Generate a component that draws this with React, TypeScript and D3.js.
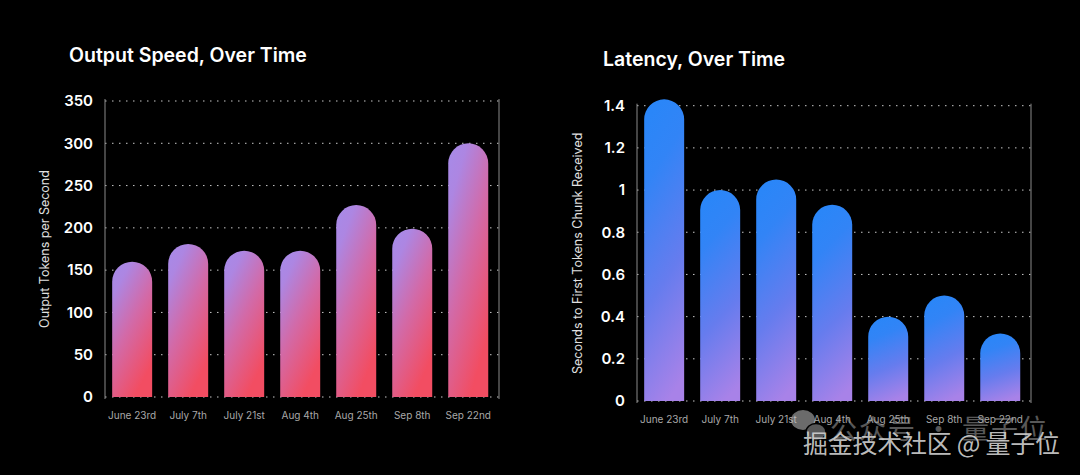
import React from "react";
import { scaleBand, scaleLinear } from "d3";

const dates = ["June 23rd", "July 7th", "July 21st", "Aug 4th", "Aug 25th", "Sep 8th", "Sep 22nd"];
const speedValues = [160, 181, 173, 173, 227, 199, 300];
const latencyValues = [1.43, 1.0, 1.05, 0.93, 0.4, 0.5, 0.32];
const speedTicks = [0, 50, 100, 150, 200, 250, 300, 350];
const latencyTicks = [0, 0.2, 0.4, 0.6, 0.8, 1, 1.2, 1.4];

type PanelProps = {
  id: string;
  title: string;
  yLabel: string;
  values: number[];
  ticks: number[];
  x0: number;
  x1: number;
  yTop: number;
  yBottom: number;
  titleX: number;
  titleY: number;
  labelX: number;
  xLabelY: number;
  stops: [number, string][];
  grad: { x1: string; y1: string; x2: string; y2: string };
};

function Panel(p: PanelProps) {
  const x = scaleBand<string>()
    .domain(dates)
    .range([p.x0, p.x1])
    .paddingInner(0.286)
    .paddingOuter(0.16)
    .align(0.4);
  const y = scaleLinear()
    .domain([0, p.ticks[p.ticks.length - 1]])
    .range([p.yBottom, p.yTop]);
  const w = x.bandwidth();
  const r = w / 2;

  return (
    <g>
      <defs>
        <linearGradient id={p.id} x1={p.grad.x1} y1={p.grad.y1} x2={p.grad.x2} y2={p.grad.y2}>
          {p.stops.map(([o, c]) => (
            <stop key={o} offset={o} stopColor={c} />
          ))}
        </linearGradient>
      </defs>
      <text x={p.titleX} y={p.titleY} fill="#fff" fontSize={19.5} fontWeight={600} fontFamily="Inter, sans-serif">
        {p.title}
      </text>
      {p.ticks.map((t) => (
        <g key={t}>
          <line
            x1={p.x0}
            x2={p.x1}
            y1={y(t)}
            y2={y(t)}
            stroke="#c8c8c8"
            strokeWidth={1}
            strokeDasharray="1.5 5.5"
          />
          <text
            x={p.x0 - 12}
            y={y(t)}
            dy="0.35em"
            textAnchor="end"
            fill="#fff"
            fontSize={15}
            fontWeight={600}
            fontFamily="Inter, sans-serif"
          >
            {String(t)}
          </text>
        </g>
      ))}
      <line x1={p.x0} x2={p.x0} y1={p.yTop - 2} y2={p.yBottom + 2} stroke="#8a8a8a" strokeWidth={1} />
      <line x1={p.x1} x2={p.x1} y1={p.yTop - 2} y2={p.yBottom + 2} stroke="#8a8a8a" strokeWidth={1} />
      {p.values.map((v, i) => {
        const bx = x(dates[i]) ?? 0;
        const top = y(v);
        const d = `M${bx},${p.yBottom} L${bx},${top + r} A${r},${r} 0 0 1 ${bx + w},${top + r} L${bx + w},${p.yBottom} Z`;
        return <path key={i} d={d} fill={`url(#${p.id})`} />;
      })}
      {dates.map((c) => (
        <text
          key={c}
          x={(x(c) ?? 0) + w / 2}
          y={p.xLabelY}
          textAnchor="middle"
          fill="#a8a8a8"
          fontSize={10}
          fontFamily="Inter, sans-serif"
        >
          {c}
        </text>
      ))}
      <text
        transform={`translate(${p.labelX},${(p.yTop + p.yBottom) / 2}) rotate(-90)`}
        textAnchor="middle"
        dy="0.35em"
        fill="#e0e0e0"
        fontSize={12.5}
        fontFamily="Inter, sans-serif"
      >
        {p.yLabel}
      </text>
    </g>
  );
}

export default function App() {
  return (
    <svg
      width={1080}
      height={475}
      style={{ position: "absolute", left: 0, top: 0, display: "block" }}
    >
      <rect width={1080} height={475} fill="#000" />
      <Panel
        id="gSpeed"
        title="Output Speed, Over Time"
        yLabel="Output Tokens per Second"
        values={speedValues}
        ticks={speedTicks}
        x0={105}
        x1={499}
        yTop={101}
        yBottom={397}
        titleX={69}
        titleY={62}
        labelX={45}
        xLabelY={419}
        stops={[
          [0, "#a68be9"],
          [0.2, "#ad86e2"],
          [0.55, "#d26aa8"],
          [1, "#f24d62"],
        ]}
        grad={{ x1: "0", y1: "0", x2: "0.55", y2: "1" }}
      />
      <Panel
        id="gLat"
        title="Latency, Over Time"
        yLabel="Seconds to First Tokens Chunk Received"
        values={latencyValues}
        ticks={latencyTicks}
        x0={637}
        x1={1031}
        yTop={105.7}
        yBottom={401}
        titleX={603}
        titleY={66}
        labelX={578}
        xLabelY={423}
        stops={[
          [0, "#2a86f8"],
          [0.2, "#3284f6"],
          [0.6, "#667cee"],
          [1, "#a882e8"],
        ]}
        grad={{ x1: "0.4", y1: "0", x2: "0.6", y2: "1" }}
      />
      {/* watermark */}
      <g opacity={0.55}>
        <ellipse cx={803} cy={420} rx={12} ry={10} fill="#c4c4c4" />
        <ellipse cx={816} cy={432} rx={10} ry={8.5} fill="#a0a0a0" stroke="#000" strokeWidth={1.5} />
        <text
          x={830}
          y={439}
          fill="#a0a0a0"
          fontSize={27}
          textLength={217}
          lengthAdjust="spacing"
          fontFamily="'Noto Sans CJK SC', sans-serif"
        >
          公众号 · 量子位
        </text>
      </g>
      <text
        x={803}
        y={453}
        fill="#d4d4d4"
        fillOpacity={0.9}
        fontSize={25}
        textLength={257}
        lengthAdjust="spacing"
        fontFamily="'Noto Sans CJK SC', sans-serif"
      >
        掘金技术社区 @ 量子位
      </text>
    </svg>
  );
}
